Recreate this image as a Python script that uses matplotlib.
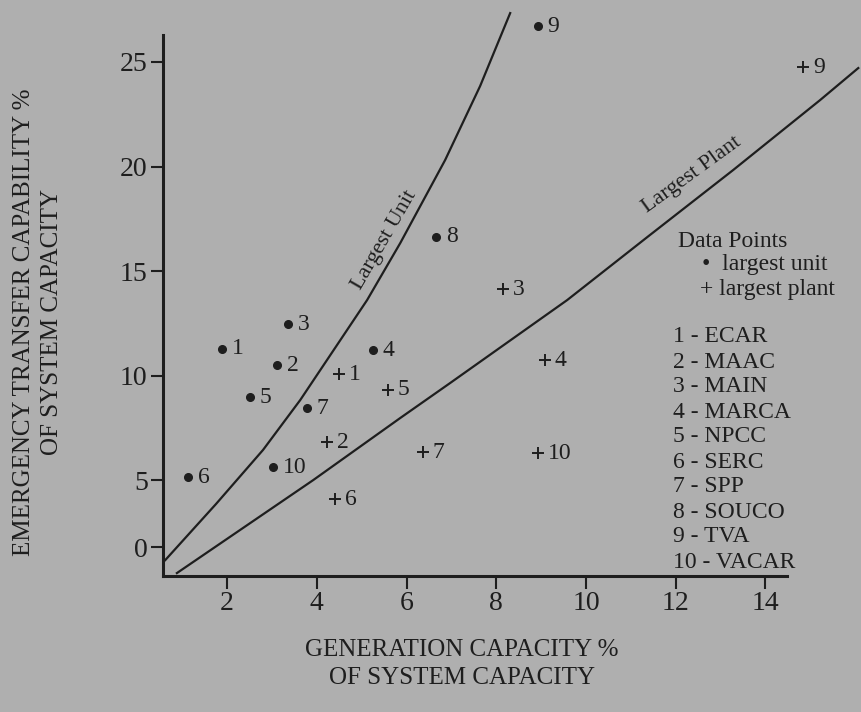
import matplotlib
matplotlib.use("Agg")
from matplotlib import pyplot as plt

# largest unit points (dots)
unit_x = [1.89, 3.11, 3.36, 5.25, 2.51, 1.13, 3.78, 6.66, 8.93, 3.02]
unit_y = [11.27, 10.50, 12.46, 11.22, 8.97, 5.14, 8.44, 16.63, 26.72, 5.62]
unit_ids = ["1", "2", "3", "4", "5", "6", "7", "8", "9", "10"]

# largest plant points (pluses), no 8
plant_x = [4.50, 4.23, 8.15, 9.09, 5.59, 4.41, 6.37, 14.84, 8.93]
plant_y = [10.07, 6.82, 14.14, 10.74, 9.31, 4.09, 6.34, 24.76, 6.29]
plant_ids = ["1", "2", "3", "4", "5", "6", "7", "9", "10"]

# curves
unit_curve_x = [0.62, 1.75, 2.80, 3.63, 5.12, 5.86, 6.86, 7.64, 8.31]
unit_curve_y = [1.17, 3.85, 6.44, 8.83, 13.61, 16.34, 20.31, 23.85, 27.34]
plant_curve_x = [0.88, 3.92, 5.86, 6.97, 9.58, 11.37, 13.28, 15.22, 16.07]
plant_curve_y = [0.55, 5.00, 7.97, 9.64, 13.61, 16.63, 19.83, 23.18, 24.71]

regions = ["ECAR", "MAAC", "MAIN", "MARCA", "NPCC", "SERC", "SPP", "SOUCO", "TVA", "VACAR"]

xticks = [2, 4, 6, 8, 10, 12, 14]
yticks = [1.79, 5, 10, 15, 20, 25]
ytick_labels = ["0", "5", "10", "15", "20", "25"]

bg = "#afafaf"
ink = "#1e1e1e"
plt.rcParams["font.family"] = ["Liberation Serif", "DejaVu Serif"]

fig = plt.figure(figsize=(8.61, 7.12), dpi=100, facecolor=bg)
ax = fig.add_axes([0.1893, 0.191, 0.7247, 0.7598], facecolor=bg)
ax.set_xlim(0.57, 14.48)
ax.set_ylim(0.41, 26.29)

for s in ["top", "right"]:
    ax.spines[s].set_visible(False)
for s in ["left", "bottom"]:
    ax.spines[s].set_linewidth(2.2)
    ax.spines[s].set_color(ink)

ax.set_xticks(xticks)
ax.set_xticklabels([str(t) for t in xticks])
ax.set_yticks(yticks)
ax.set_yticklabels(ytick_labels)
ax.tick_params(axis="both", length=9, width=1.5, color=ink, labelsize=20,
               labelcolor=ink, pad=2)

ax.plot(unit_curve_x, unit_curve_y, color=ink, lw=1.6, clip_on=False)
ax.plot(plant_curve_x, plant_curve_y, color=ink, lw=1.6, clip_on=False)

ax.plot(unit_x, unit_y, "o", color=ink, ms=5.5, clip_on=False)
for x, y, t in zip(unit_x, unit_y, unit_ids):
    ax.annotate(t, (x, y), xytext=(7, 0), textcoords="offset points",
                va="center", ha="left", fontsize=17, color=ink, annotation_clip=False)

ax.plot(plant_x, plant_y, "+", color=ink, ms=9, mew=1.4, clip_on=False)
for x, y, t in zip(plant_x, plant_y, plant_ids):
    ax.annotate(t, (x, y), xytext=(7, 0), textcoords="offset points",
                va="center", ha="left", fontsize=17, color=ink, annotation_clip=False)

ax.text(5.5, 16.5, "Largest Unit", rotation=60, ha="center", va="center",
        fontsize=16, color=ink)
ax.text(12.35, 19.6, "Largest Plant", rotation=36, ha="center", va="center",
        fontsize=16, color=ink)

# key
fig.text(678 / 861, 1 - 241 / 712, "Data Points", fontsize=17, color=ink, va="center")
fig.text(702 / 861, 1 - 265 / 712, "•  largest unit", fontsize=17, color=ink, va="center")
fig.text(700 / 861, 1 - 290 / 712, "+ largest plant", fontsize=17, color=ink, va="center")
for i, r in enumerate(regions):
    fig.text(673 / 861, 1 - (337 + 25 * i) / 712, f"{i + 1} - {r}", fontsize=17,
             color=ink, va="center")

fig.text(462 / 861, 1 - 664 / 712, "GENERATION CAPACITY %\nOF SYSTEM CAPACITY",
         ha="center", va="center", fontsize=18, color=ink, linespacing=1.3)
fig.text(38 / 861, 1 - 322 / 712, "EMERGENCY TRANSFER CAPABILITY %\nOF SYSTEM CAPACITY",
         ha="center", va="center", rotation=90, fontsize=18, color=ink, linespacing=1.3)

fig.savefig("out.png", dpi=100, facecolor=bg)
